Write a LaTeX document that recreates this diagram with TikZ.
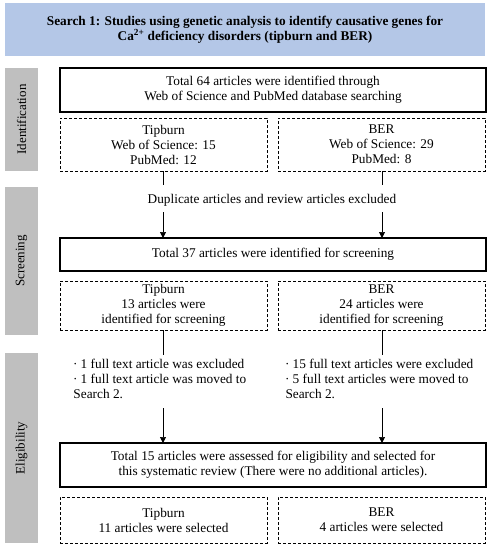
\documentclass[tikz,border=0pt]{standalone}
\usepackage{fontspec}
\setmainfont{Liberation Serif}
\usetikzlibrary{arrows.meta}
\definecolor{hdrblue}{HTML}{B4C7E7}
\definecolor{sidegray}{HTML}{BFBFBF}
\begin{document}
\begin{tikzpicture}[x=1pt,y=-1pt,
  every node/.style={inner sep=0pt, outer sep=0pt, font=\fontsize{13.3}{15}\selectfont},
  hdr/.style={fill=hdrblue, draw=none, minimum width=480pt, minimum height=53pt, align=center, font=\fontsize{13.3}{15.5}\selectfont\bfseries},
  side/.style={fill=sidegray, draw=none, minimum height=33pt, rotate=90, font=\fontsize{13}{14}\selectfont},
  solidbox/.style={draw, line width=1.3pt, minimum width=426pt, align=center},
  dashbox/.style={draw, line width=0.9pt, dash pattern=on 3pt off 2pt, minimum width=207pt, align=center},
  conn/.style={line width=0.7pt},
  arr/.style={line width=0.7pt, -{Triangle[length=6pt,width=6pt]}}
]
\useasboundingbox (0,0) rectangle (494,550);
\node[hdr] (hdr) at (245,29.5) {Search 1: Studies using genetic analysis to identify causative genes for\\Ca\textsuperscript{2+} deficiency disorders (tipburn and BER)};
\node[side, minimum width=103pt] (sid) at (21.5,119.5) {Identification};
\node[side, minimum width=148pt] (sscr) at (21.5,261) {Screening};
\node[side, minimum width=190pt] (sel) at (21.5,448) {Eligibility};

\node[solidbox, minimum height=44pt] (b1) at (273,90) {Total 64 articles were identified through\\Web of Science and PubMed database searching};
\node[dashbox, minimum height=53pt] (l1) at (163.5,144.5) {Tipburn\\Web of Science: 15\\PubMed: 12};
\node[dashbox, minimum height=53pt] (r1) at (381.5,144.5) {BER\\Web of Science: 29\\PubMed: 8};

\node (dup) at (272,200) {Duplicate articles and review articles excluded};
\coordinate (l1e) at (163,185);
\coordinate (r1e) at (382,185);
\coordinate (l1s) at (163,212);
\coordinate (r1s) at (382,212);

\node[solidbox, minimum height=33pt] (b2) at (273,254.5) {Total 37 articles were identified for screening};
\node[dashbox, minimum height=49pt] (l2) at (163.5,305.5) {Tipburn\\13 articles were\\identified for screening};
\node[dashbox, minimum height=49pt] (r2) at (381.5,305.5) {BER\\24 articles were\\identified for screening};

\node[anchor=north west, align=left] (lt) at (73,359) {· 1 full text article was excluded\\· 1 full text article was moved to\\\hspace{0.5pt}Search 2.};
\node[anchor=north west, align=left] (rt) at (285,359) {· 15 full text articles were excluded\\· 5 full text articles were moved to\\\hspace{0.5pt}Search 2.};
\coordinate (l2e) at (163,355);
\coordinate (r2e) at (382,355);
\coordinate (l3s) at (163,408);
\coordinate (r3s) at (382,408);

\node[solidbox, minimum height=44pt] (b3) at (273,465) {Total 15 articles were assessed for eligibility and selected for\\this systematic review (There were no additional articles).};
\node[dashbox, minimum height=46pt] (l3) at (163.5,520) {Tipburn\\11 articles were selected};
\node[dashbox, minimum height=46pt] (r3) at (381.5,520) {BER\\4 articles were selected};

\draw[conn] (l1.south -| l1e) -- (l1e);
\draw[conn] (r1.south -| r1e) -- (r1e);
\draw[arr] (l1s) -- (l1s |- b2.north);
\draw[arr] (r1s) -- (r1s |- b2.north);
\draw[conn] (l2.south -| l2e) -- (l2e);
\draw[conn] (r2.south -| r2e) -- (r2e);
\draw[arr] (l3s) -- (l3s |- b3.north);
\draw[arr] (r3s) -- (r3s |- b3.north);
\end{tikzpicture}
\end{document}
